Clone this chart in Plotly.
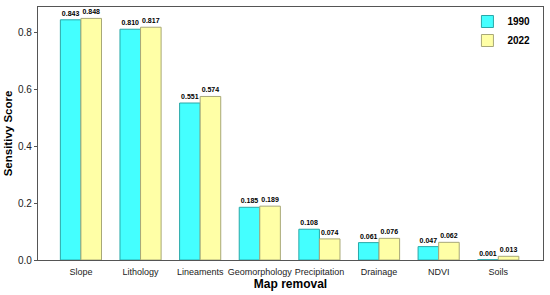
import plotly.graph_objects as go

categories = ["Slope", "Lithology", "Lineaments", "Geomorphology", "Precipitation", "Drainage", "NDVI", "Soils"]
v1990 = [0.843, 0.810, 0.551, 0.185, 0.108, 0.061, 0.047, 0.001]
v2022 = [0.848, 0.817, 0.574, 0.189, 0.074, 0.076, 0.062, 0.013]
yticks = [0.0, 0.2, 0.4, 0.6, 0.8]

font = "Arial, Liberation Sans, sans-serif"

fig = go.Figure()
fig.add_trace(go.Bar(
    x=categories, y=v1990, name="1990",
    marker=dict(color="#44FFFF", line=dict(color="#2AA8A8", width=1)),
    text=[f"{v:.3f}" for v in v1990], textposition="outside",
    textfont=dict(size=7, color="black", family=font, weight="bold"),
    cliponaxis=False,
))
fig.add_trace(go.Bar(
    x=categories, y=v2022, name="2022",
    marker=dict(color="#FFFFA6", line=dict(color="#A8A878", width=1)),
    text=[f"{v:.3f}" for v in v2022], textposition="outside",
    textfont=dict(size=7, color="black", family=font, weight="bold"),
    cliponaxis=False,
))

fig.update_layout(
    width=550, height=295,
    margin=dict(l=38, r=7, t=7, b=35, autoexpand=False),
    paper_bgcolor="white", plot_bgcolor="white",
    barmode="group", bargap=0.31, bargroupgap=0,
    font=dict(family=font, size=9, color="#222"),
    uniformtext=dict(minsize=6, mode="show"),
    legend=dict(x=0.985, y=1.0, xanchor="right", yanchor="top",
                font=dict(size=10, family=font, weight="bold", color="black"),
                bgcolor="rgba(0,0,0,0)", itemwidth=30, tracegroupgap=2),
    xaxis=dict(range=[-0.72, 7.75], showline=True, linecolor="#555", linewidth=1.2,
               mirror=True, ticks="", tickangle=0, tickfont=dict(size=9), automargin=False,
               ticklabelstandoff=3,
               title=dict(text="<b>Map removal</b>", font=dict(size=12, color="black"), standoff=2)),
    yaxis=dict(range=[0, 0.888], tickvals=yticks, ticktext=[f"{t:.1f}" for t in yticks],
               showline=True, linecolor="#555", linewidth=1.2, mirror=True,
               ticks="outside", ticklen=3, tickcolor="#555", showgrid=False, zeroline=False,
               tickfont=dict(size=10), automargin=False,
               title=dict(text="<b>Sensitivy Score</b>", font=dict(size=11.5, color="black"), standoff=2)),
)

fig.write_html("out.html", config={"displayModeBar": False},
               post_script="document.body.style.margin='0';")
